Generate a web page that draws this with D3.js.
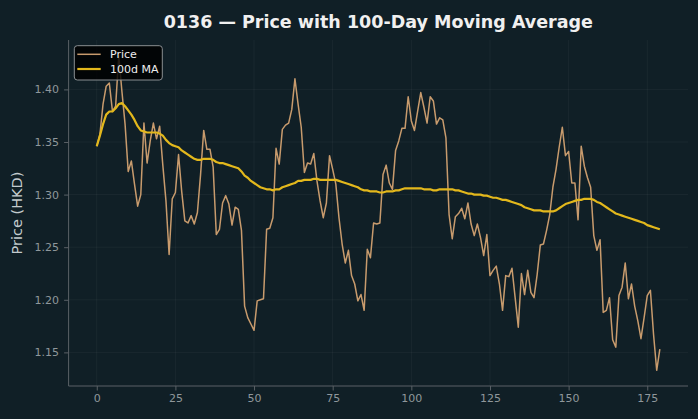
<!DOCTYPE html>
<html>
<head>
<meta charset="utf-8">
<script src="https://cdn.jsdelivr.net/npm/d3@7/dist/d3.min.js"></script>
<style>
  html, body { margin: 0; padding: 0; background: #101f26; }
  svg { display: block; font-family: "DejaVu Sans", sans-serif; }
</style>
</head>
<body>
<svg id="chart" width="698" height="419"></svg>
<script>
const title = "0136 — Price with 100-Day Moving Average";
const yLabel = "Price (HKD)";
const seriesNames = ["Price", "100d MA"];
const xTicks = [0, 25, 50, 75, 100, 125, 150, 175];
const yTicks = [1.15, 1.20, 1.25, 1.30, 1.35, 1.40];

const price = [
  1.346, 1.357, 1.386, 1.403, 1.406, 1.379, 1.384, 1.432, 1.398, 1.367,
  1.322, 1.332, 1.310, 1.289, 1.300, 1.368, 1.330, 1.351, 1.368, 1.353,
  1.365, 1.328, 1.294, 1.243, 1.296, 1.302, 1.338, 1.303, 1.275, 1.273,
  1.280, 1.272, 1.283, 1.319, 1.361, 1.343, 1.343, 1.326, 1.262, 1.267,
  1.292, 1.299, 1.291, 1.271, 1.288, 1.286, 1.266, 1.194, 1.183, 1.177,
  1.171, 1.199, 1.200, 1.201, 1.267, 1.268, 1.278, 1.344, 1.329, 1.362,
  1.366, 1.368, 1.381, 1.410, 1.386, 1.364, 1.321, 1.330, 1.329, 1.339,
  1.313, 1.294, 1.278, 1.292, 1.337, 1.324, 1.310, 1.278, 1.253, 1.235,
  1.247, 1.223, 1.215, 1.199, 1.205, 1.190, 1.248, 1.240, 1.273, 1.272,
  1.273, 1.319, 1.328, 1.311, 1.305, 1.342, 1.351, 1.363, 1.363, 1.393,
  1.370, 1.361, 1.379, 1.397, 1.383, 1.368, 1.393, 1.389, 1.367, 1.373,
  1.371, 1.354, 1.281, 1.258, 1.279, 1.282, 1.287, 1.277, 1.292, 1.272,
  1.261, 1.272, 1.259, 1.242, 1.262, 1.223, 1.228, 1.232, 1.215, 1.190,
  1.223, 1.222, 1.230, 1.202, 1.174, 1.225, 1.205, 1.228, 1.207, 1.202,
  1.224, 1.252, 1.253, 1.266, 1.281, 1.307, 1.324, 1.345, 1.364, 1.337,
  1.341, 1.311, 1.311, 1.276, 1.346, 1.327, 1.316, 1.307, 1.261, 1.247,
  1.257, 1.188, 1.190, 1.202, 1.162, 1.155, 1.204, 1.212, 1.235, 1.201,
  1.215, 1.194, 1.180, 1.163, 1.183, 1.204, 1.209, 1.167, 1.133, 1.153
];

const ma100 = [
  1.346, 1.356, 1.367, 1.376, 1.379, 1.379, 1.382, 1.386, 1.387, 1.384,
  1.380, 1.376, 1.371, 1.365, 1.361, 1.360, 1.359, 1.359, 1.359, 1.359,
  1.358, 1.356, 1.352, 1.349, 1.347, 1.346, 1.345, 1.342, 1.340, 1.338,
  1.336, 1.334, 1.333, 1.333, 1.334, 1.334, 1.334, 1.333, 1.331, 1.330,
  1.330, 1.329, 1.328, 1.327, 1.326, 1.325, 1.322, 1.318, 1.316, 1.313,
  1.311, 1.309, 1.307, 1.306, 1.305, 1.305, 1.304, 1.305, 1.305, 1.307,
  1.308, 1.309, 1.310, 1.311, 1.313, 1.313, 1.314, 1.314, 1.314, 1.315,
  1.315, 1.314, 1.314, 1.314, 1.314, 1.314, 1.314, 1.313, 1.312, 1.311,
  1.310, 1.309, 1.308, 1.307, 1.305, 1.304, 1.304, 1.303, 1.303, 1.303,
  1.302, 1.302, 1.303, 1.303, 1.303, 1.304, 1.304, 1.305, 1.306, 1.306,
  1.306, 1.306, 1.306, 1.306, 1.305, 1.305, 1.305, 1.304, 1.304, 1.305,
  1.305, 1.305, 1.305, 1.305, 1.304, 1.304, 1.303, 1.302, 1.301, 1.301,
  1.300, 1.300, 1.300, 1.299, 1.299, 1.298, 1.297, 1.297, 1.296, 1.295,
  1.295, 1.294, 1.293, 1.292, 1.291, 1.290, 1.288, 1.287, 1.286, 1.285,
  1.285, 1.285, 1.284, 1.284, 1.284, 1.284, 1.285, 1.287, 1.289, 1.291,
  1.292, 1.293, 1.294, 1.295, 1.295, 1.296, 1.296, 1.296, 1.295, 1.293,
  1.292, 1.290, 1.288, 1.286, 1.284, 1.282, 1.281, 1.280, 1.279, 1.278,
  1.277, 1.276, 1.275, 1.274, 1.273, 1.271, 1.270, 1.269, 1.268, 1.267
];

const W = 698, H = 419;
const plot = { left: 68.6, right: 688, top: 40, bottom: 386 };
const colors = { bg: "#101f26", price: "#c89b6d", ma: "#e3b81c", grid: "rgba(255,255,255,0.055)",
  spine: "#5a6166", tick: "#8f979b", label: "#c3cbce", title: "#f0f0f0" };

const svg = d3.select("#chart");
svg.append("rect").attr("width", W).attr("height", H).attr("fill", colors.bg);

const n = price.length;
const xPad = (n - 1) * 0.05;
const x = d3.scaleLinear().domain([-xPad, n - 1 + xPad]).range([plot.left, plot.right]);
const all = price.concat(ma100);
const yMin = d3.min(all), yMax = d3.max(all), yPad = (yMax - yMin) * 0.05;
const y = d3.scaleLinear().domain([yMin - yPad, yMax + yPad]).range([plot.bottom, plot.top]);

// grid
const g = svg.append("g");
g.selectAll("line.gx").data(xTicks).join("line")
  .attr("x1", d => x(d)).attr("x2", d => x(d)).attr("y1", plot.top).attr("y2", plot.bottom)
  .attr("stroke", colors.grid).attr("stroke-width", 0.8);
g.selectAll("line.gy").data(yTicks).join("line")
  .attr("y1", d => y(d)).attr("y2", d => y(d)).attr("x1", plot.left).attr("x2", plot.right)
  .attr("stroke", colors.grid).attr("stroke-width", 0.8);

// axes
const xAxis = d3.axisBottom(x).tickValues(xTicks).tickFormat(d3.format("d")).tickSize(4.5).tickPadding(4);
const yAxis = d3.axisLeft(y).tickValues(yTicks).tickFormat(d3.format(".2f")).tickSize(4.5).tickPadding(5);

const gx = svg.append("g").attr("transform", `translate(0,${plot.bottom})`).call(xAxis);
const gy = svg.append("g").attr("transform", `translate(${plot.left},0)`).call(yAxis);
[gx, gy].forEach(a => {
  a.select(".domain").attr("stroke", colors.spine).attr("stroke-width", 1);
  a.selectAll(".tick line").attr("stroke", colors.spine).attr("stroke-width", 1);
  a.selectAll(".tick text").attr("fill", colors.tick).attr("font-size", 11)
    .attr("font-family", "DejaVu Sans, sans-serif");
});
gx.select(".domain").attr("d", `M${plot.left},0H${plot.right}`);
gy.select(".domain").attr("d", `M0,${plot.top}V${plot.bottom}`);

// lines
const lineGen = d3.line().x((d, i) => x(i)).y(d => y(d));
svg.append("path").datum(price).attr("d", lineGen)
  .attr("fill", "none").attr("stroke", colors.price).attr("stroke-width", 1.5).attr("stroke-linejoin", "round");
svg.append("path").datum(ma100).attr("d", lineGen)
  .attr("fill", "none").attr("stroke", colors.ma).attr("stroke-width", 2.2).attr("stroke-linejoin", "round");

// title
svg.append("text").attr("x", (plot.left + plot.right) / 2).attr("y", 28)
  .attr("text-anchor", "middle").attr("font-size", 17.5).attr("font-weight", "bold")
  .attr("fill", colors.title).text(title);

// y label
svg.append("text").attr("transform", `translate(22,${(plot.top + plot.bottom) / 2}) rotate(-90)`)
  .attr("text-anchor", "middle").attr("font-size", 14.5).attr("fill", colors.label).text(yLabel);

// legend
const lg = svg.append("g").attr("transform", "translate(74.3,45.7)");
lg.append("rect").attr("width", 88).attr("height", 34.3).attr("rx", 3)
  .attr("fill", "rgba(0,0,0,0.82)").attr("stroke", "#8a8f92").attr("stroke-width", 1);
const legendItems = [{ name: seriesNames[0], color: colors.price, w: 1.5 }, { name: seriesNames[1], color: colors.ma, w: 2.2 }];
legendItems.forEach((it, k) => {
  const cy = 8.6 + k * 14.7;
  lg.append("line").attr("x1", 3).attr("x2", 26.4).attr("y1", cy).attr("y2", cy)
    .attr("stroke", it.color).attr("stroke-width", it.w);
  lg.append("text").attr("x", 35.7).attr("y", cy + 4).attr("font-size", 11)
    .attr("fill", "#eeeeee").text(it.name);
});
</script>
</body>
</html>
